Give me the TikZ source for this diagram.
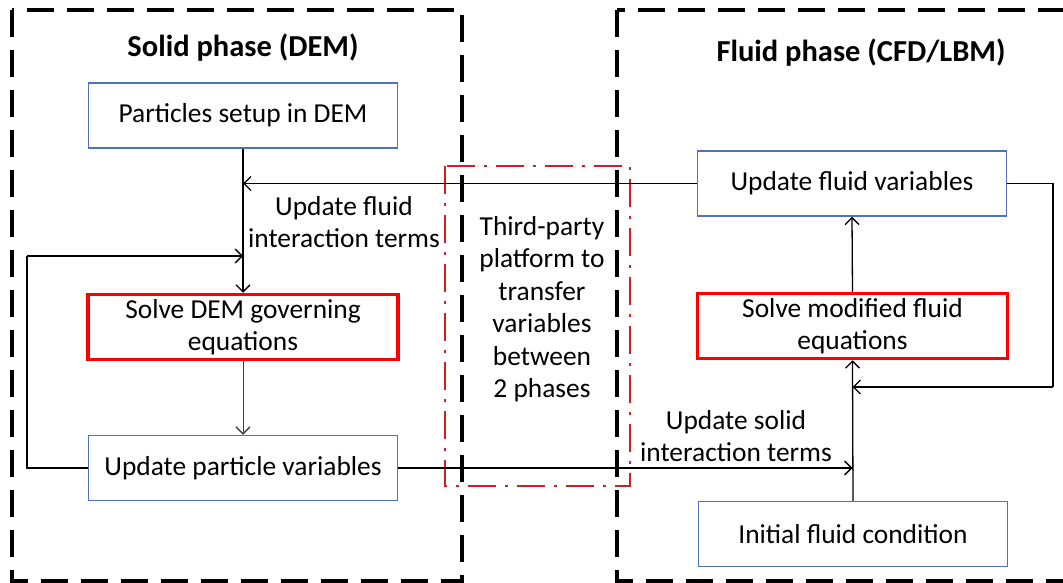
\documentclass[tikz,border=0pt]{standalone}
\usepackage{fontspec}
\setmainfont{Carlito}
\usetikzlibrary{arrows.meta}

\definecolor{boxblue}{RGB}{79,114,190}
\definecolor{platred}{RGB}{210,30,30}

\tikzset{
  txt/.style={font=\fontsize{27.4}{32.5}\selectfont, align=center, inner sep=0pt},
  title/.style={font=\fontsize{30.5}{34}\selectfont\bfseries, inner sep=0pt},
  stepbox/.style={txt, draw=boxblue, line width=1.5pt, minimum width=309pt, minimum height=65pt},
  solvebox/.style={txt, draw=red, line width=3.5pt, minimum width=310pt, minimum height=65pt},
  phasebox/.style={draw=black, line width=3.5pt, dash pattern=on 27pt off 13pt},
  platbox/.style={draw=platred, line width=2pt, dash pattern=on 28pt off 9pt on 3pt off 9pt},
  conn/.style={draw=black, line width=1.3pt, -{Straight Barb[length=7pt, width=14pt, line width=1.3pt]}},
  plain/.style={draw=black, line width=1.3pt},
}

\begin{document}
\begin{tikzpicture}[x=1pt, y=-1pt]
\useasboundingbox (0,0) rectangle (1063,583);
\fill[white] (0,0) rectangle (1063,583);

% phase frames
\draw[phasebox] (12,10) rectangle (462,581);
\draw[phasebox] (617,10) rectangle (1090,581);

% third-party platform frame
\draw[platbox] (445,166) rectangle (630,486);

% titles
\node[title] (tsolid) at (243,48) {Solid phase (DEM)};
\node[title] (tfluid) at (861,53) {Fluid phase (CFD/LBM)};

% solid phase steps
\node[stepbox] (setup) at (243,115.5) {Particles setup in DEM};
\node[solvebox] (dem) at (243,327) {Solve DEM governing\\equations};
\node[stepbox] (upv) at (243,468) {Update particle variables};

% fluid phase steps
\node[stepbox] (ufv) at (852,183.5) {Update fluid variables};
\node[solvebox] (smf) at (852.5,326) {Solve modified fluid\\equations};
\node[stepbox] (ifc) at (853,534) {Initial fluid condition};

% platform text
\node[txt] (plat) at (542,309) {Third-party\\platform to\\transfer\\variables\\between\\2 phases};

% transfer labels
\node[txt] (lblfluid) at (344,222) {Update fluid\\interaction terms};
\node[txt] (lblsolid) at (736,436) {Update solid\\interaction terms};

% connectors: solid side
\draw[conn] (setup.south) -- (dem.north);
\draw[conn] (ufv.west) -- (ufv.west -| setup.south);
\coordinate (loopL) at (27,256);
\draw[plain] (upv.west) -| (loopL);
\draw[conn] (loopL) -- (loopL -| dem.north);
\draw[conn, draw=black!75, line width=1pt] (dem.south) -- (upv.north);

% connectors: fluid side
\draw[conn] (upv.east) -- (upv.east -| smf.south);
\draw[conn] (ifc.north) -- (smf.south);
\draw[conn] (smf.north) -- (ufv.south);
\coordinate (loopR) at (1053,387);
\draw[plain] (ufv.east) -| (loopR);
\draw[conn] (loopR) -- (loopR -| smf.south);
\end{tikzpicture}
\end{document}
